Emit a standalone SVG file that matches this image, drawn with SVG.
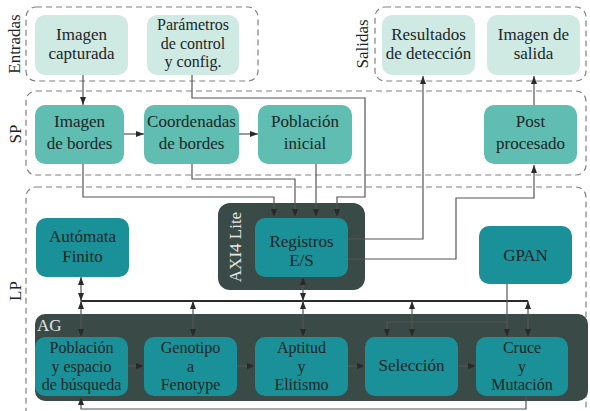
<svg xmlns="http://www.w3.org/2000/svg" width="590" height="411" viewBox="0 0 590 411">
<defs>
<marker id="ah" markerWidth="8" markerHeight="6" refX="8" refY="3" orient="auto-start-reverse" markerUnits="userSpaceOnUse">
<path d="M0,0 L8,3 L0,6 z" fill="#2a2a2a"/>
</marker>
<style>
text{font-family:"Liberation Serif","Times New Roman",serif;font-size:17px;fill:#1b2626;text-anchor:middle}
.t3{font-size:16px}
.grp{fill:none;stroke:#808080;stroke-width:1.2;stroke-dasharray:6 4}
.lbl{font-size:17px;fill:#1b2626}
.in{fill:#cfe9e3}
.sp{fill:#5fbdb2}
.lp{fill:#1a9198}
.dark{fill:#3a4a46}
.w{fill:#e6e6e6}
.c{fill:none;stroke:#555;stroke-width:1.2}
.a{marker-end:url(#ah)}
.d{marker-start:url(#ah);marker-end:url(#ah)}
.bus{fill:none;stroke:#2a2a2a;stroke-width:2.2}
</style>
</defs>
<g id="groups">
<rect class="grp" x="26" y="7" width="232" height="74" rx="10"/>
<rect class="grp" x="375" y="7" width="211" height="74" rx="10"/>
<rect class="grp" x="26" y="91" width="560" height="84" rx="10"/>
<rect class="grp" x="26" y="187" width="560" height="240" rx="10"/>
<text class="lbl" transform="translate(20,44) rotate(-90)">Entradas</text>
<text class="lbl" transform="translate(368,44) rotate(-90)">Salidas</text>
<text class="lbl" transform="translate(21,134) rotate(-90)">SP</text>
<text class="lbl" transform="translate(21,291) rotate(-90)">LP</text>
</g>
<g id="axi">
<rect class="dark" x="218" y="203" width="147" height="87" rx="12"/>
<text class="w" transform="translate(241,247) rotate(-90)">AXI4 Lite</text>
</g>
<g id="ag">
<rect class="dark" x="35" y="314" width="553" height="87" rx="10"/>
<text class="w" x="37" y="331" style="text-anchor:start">AG</text>
</g>
<g id="imagen-capturada"><rect class="in" x="35" y="15" width="93" height="60" rx="10"/><text x="81.5" y="40">Imagen</text><text x="81.5" y="59">capturada</text></g>
<g id="parametros"><rect class="in" x="147" y="15" width="92" height="60" rx="10"/><text class="t3" x="193" y="30">Parámetros</text><text class="t3" x="193" y="48.5">de control</text><text class="t3" x="193" y="67">y config.</text></g>
<g id="resultados"><rect class="in" x="382" y="15" width="93" height="60" rx="10"/><text x="428.5" y="40">Resultados</text><text x="428.5" y="59">de detección</text></g>
<g id="imagen-salida"><rect class="in" x="487" y="15" width="93" height="60" rx="10"/><text x="533.5" y="40">Imagen de</text><text x="533.5" y="59">salida</text></g>
<g id="imagen-bordes"><rect class="sp" x="35" y="105" width="89" height="59" rx="10"/><text x="79.5" y="127">Imagen</text><text x="79.5" y="149">de bordes</text></g>
<g id="coordenadas"><rect class="sp" x="144" y="105" width="95" height="59" rx="10"/><text x="191.5" y="127">Coordenadas</text><text x="191.5" y="149">de bordes</text></g>
<g id="poblacion-inicial"><rect class="sp" x="258" y="105" width="94" height="59" rx="10"/><text x="305" y="127">Población</text><text x="305" y="149">inicial</text></g>
<g id="post"><rect class="sp" x="484" y="105" width="93" height="59" rx="10"/><text x="530.5" y="127">Post</text><text x="530.5" y="149">procesado</text></g>
<g id="automata"><rect class="lp" x="36" y="218" width="93" height="59" rx="10"/><text x="82.5" y="242">Autómata</text><text x="82.5" y="262">Finito</text></g>
<g id="registros"><rect class="lp" x="255" y="218" width="93" height="59" rx="10"/><text x="301.5" y="247">Registros</text><text x="301.5" y="266">E/S</text></g>
<g id="gpan"><rect class="lp" x="479" y="226" width="93" height="58" rx="10"/><text x="525.5" y="261">GPAN</text></g>
<g id="poblacion"><rect class="lp" x="35" y="337" width="93" height="59" rx="10"/><text class="t3" x="81.5" y="353">Población</text><text class="t3" x="81.5" y="371.5">y espacio</text><text class="t3" x="81.5" y="390">de búsqueda</text></g>
<g id="genotipo"><rect class="lp" x="144" y="337" width="93" height="59" rx="10"/><text class="t3" x="190.5" y="353">Genotipo</text><text class="t3" x="190.5" y="371.5">a</text><text class="t3" x="190.5" y="390">Fenotype</text></g>
<g id="aptitud"><rect class="lp" x="255" y="337" width="93" height="59" rx="10"/><text class="t3" x="301.5" y="353">Aptitud</text><text class="t3" x="301.5" y="371.5">y</text><text class="t3" x="301.5" y="390">Elitismo</text></g>
<g id="seleccion"><rect class="lp" x="365" y="337" width="93" height="59" rx="10"/><text x="411.5" y="371">Selección</text></g>
<g id="cruce"><rect class="lp" x="476" y="337" width="92" height="59" rx="10"/><text class="t3" x="522" y="353">Cruce</text><text class="t3" x="522" y="371.5">y</text><text class="t3" x="522" y="390">Mutación</text></g>
<g id="connectors">
<path class="c a" d="M83,75 V105"/>
<path class="c a" d="M192,75 V98 H365 V197 H337 V217"/>
<path class="c a" d="M83,164 V197 H274 V217"/>
<path class="c a" d="M192,164 V179 H295 V217"/>
<path class="c a" d="M316,164 V217"/>
<path class="c a" d="M348,239 H423 V76"/>
<path class="c a" d="M348,259 H456 V198 H534 V165"/>
<path class="c a" d="M534,105 V76"/>
<path class="c a" d="M124,134 H144"/>
<path class="c a" d="M239,134 H258"/>
<path class="bus" d="M81,301 H528"/>
<path class="c d" d="M81,277 V301"/>
<path class="c d" d="M303,277 V301"/>
<path class="c d" d="M81,301 V337"/>
<path class="c d" d="M193,301 V337"/>
<path class="c d" d="M303,301 V337"/>
<path class="c d" d="M412,301 V337"/>
<path class="c d" d="M528,301 V337"/>
<path class="c a" d="M507,284 V337"/>
<path class="c a" d="M507,322 H387 V337"/>
<path class="c a" d="M128,366 H144"/>
<path class="c a" d="M237,366 H255"/>
<path class="c a" d="M348,366 H365"/>
<path class="c a" d="M458,366 H476"/>
<path class="c a" d="M526,396 V409 H81 V397"/>
</g>
</svg>
